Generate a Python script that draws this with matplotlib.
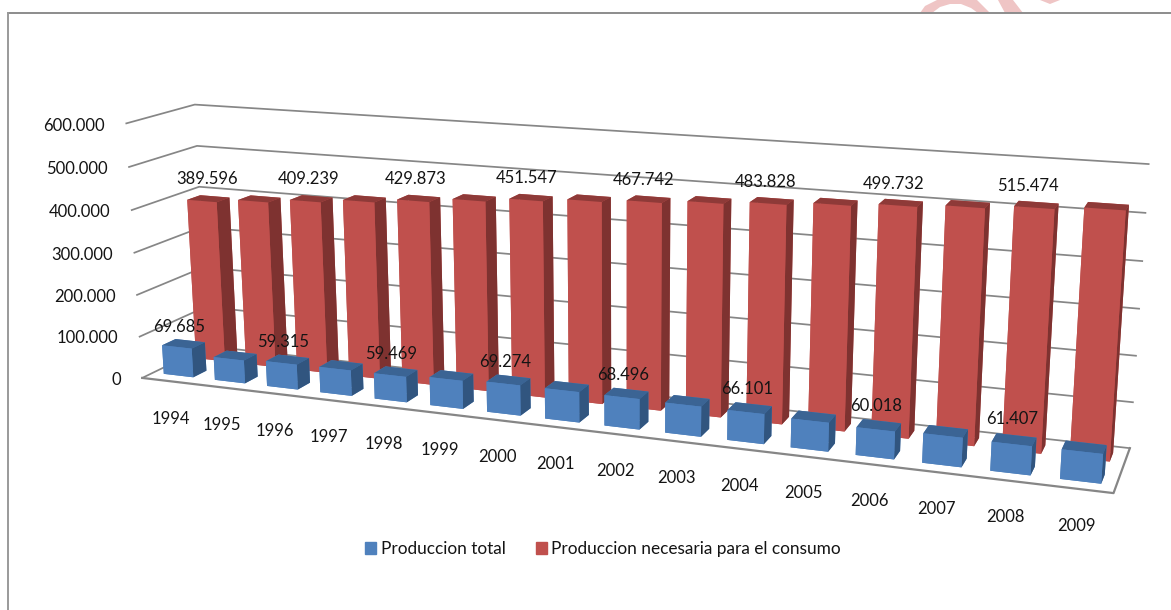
import matplotlib
matplotlib.use("Agg")
import matplotlib.pyplot as plt
from matplotlib.lines import Line2D
from matplotlib.patches import Patch, Polygon
from mpl_toolkits.mplot3d import proj3d

plt.rcParams['font.family'] = ['Lato', 'DejaVu Sans']

# datos del grafico (los años sin etiqueta son estimados a ojo)
anios = [1994, 1995, 1996, 1997, 1998, 1999, 2000, 2001,
         2002, 2003, 2004, 2005, 2006, 2007, 2008, 2009]
produccion_total = [69685, 55000, 59315, 60000, 59469, 65000, 69274, 69000,
                    68496, 67000, 66101, 63000, 60018, 63000, 61407, 62000]
produccion_consumo = [389596, 399000, 409239, 419000, 429873, 441000, 451547, 460000,
                      467742, 476000, 483828, 492000, 499732, 507000, 515474, 523000]
ticks_valor = [0, 100000, 200000, 300000, 400000, 500000, 600000]

COLOR_REJILLA = '#868686'
COLOR_TEXTO = '#141414'
AZUL = ['#4F81BD', '#3B6494', '#4F81BD', '#4F81BD', '#4F81BD', '#31557F']
ROJO = ['#C0504D', '#8E3A38', '#C0504D', '#C0504D', '#C0504D', '#7E3230']
ANCHO_PX, ALTO_PX = 1171, 610


def formato(v):
    return f"{v:,}".replace(',', '.')


def fig_xy(puntos):
    return [(x / ANCHO_PX, 1 - y / ALTO_PX) for x, y in puntos]


def etiqueta(x, y, z, texto, dx=0, dy=0, ha='center', size=12):
    # texto plano en la posicion proyectada del punto 3D
    u, v, _ = proj3d.proj_transform(x, y, z, ax.get_proj())
    ax.annotate(texto, (u, v), xytext=(dx, dy), textcoords='offset pixels', ha=ha, va='center',
                fontsize=size, color=COLOR_TEXTO, annotation_clip=False, zorder=5)


fig = plt.figure(figsize=(ANCHO_PX / 100, ALTO_PX / 100), dpi=100)

# camara ajustada a las esquinas de la caja del grafico original
ax = fig.add_axes([76.26 / ANCHO_PX, -200.2 / ALTO_PX, 1034.3 / ANCHO_PX, 1034.3 / ALTO_PX],
                  projection='3d', computed_zorder=False)
ax.set_proj_type('persp', focal_length=0.3521)
ax.view_init(elev=14.145, azim=-69.3351, roll=0.1247)
ax.set_box_aspect((1, 0.1287, 0.2713))
ax.set_axis_off()
ax.patch.set_visible(False)

n = len(anios)
z_max = ticks_valor[-1]

# rejilla: pared izquierda, pared del fondo y suelo
for z in ticks_valor:
    ax.plot([0, 0, n], [0, 2, 2], [z, z, z], color=COLOR_REJILLA, lw=1.25, zorder=1, clip_on=False)
ax.plot([0, n, n], [0, 0, 2], [0, 0, 0], color=COLOR_REJILLA, lw=1.6, zorder=1, clip_on=False)

# barras, primero la serie de atras
for i in range(n):
    b = ax.bar3d(i + 0.21, 1.3, 0, 0.58, 0.4, produccion_consumo[i], color=ROJO,
                 shade=False, linewidth=0, zorder=2)
    b.set_clip_on(False)
for i in range(n):
    b = ax.bar3d(i + 0.21, 0.32, 0, 0.58, 0.4, produccion_total[i], color=AZUL,
                 shade=False, linewidth=0, zorder=3)
    b.set_clip_on(False)

ax.set_xlim(0, n)
ax.set_ylim(0, 2)
ax.set_zlim(0, z_max)

# etiquetas de datos, una de cada dos barras
for i in range(0, n, 2):
    etiqueta(i + 0.5, 1.5, produccion_consumo[i] + 48000, formato(produccion_consumo[i]),
             dx=-0.7 * i, dy=-0.3 * i)
    etiqueta(i + 0.5, 0.5, produccion_total[i] + 52000, formato(produccion_total[i]),
             dx=-3, dy=-4)

# ejes
for z in ticks_valor:
    etiqueta(-0.4, 0, z, formato(z), dx=-1, dy=-4, ha='right')
for i, anio in enumerate(anios):
    etiqueta(i + 0.5, 0, -85000, str(anio), dx=1, dy=-3 + 0.45 * i)

# leyenda
fig.legend(handles=[Patch(color=AZUL[0], label='Produccion total'),
                    Patch(color=ROJO[0], label='Produccion necesaria para el consumo')],
           loc='center', bbox_to_anchor=(603 / ANCHO_PX, 1 - 549 / ALTO_PX), ncol=2, frameon=False,
           fontsize=12.4, handlelength=0.65, handleheight=0.65, handletextpad=0.25,
           columnspacing=1.75, labelcolor=COLOR_TEXTO)

# sello rosa cortado arriba y marco
sello = [
    [(920, 13), (925, 6), (937, 0), (977, 0), (990, 13), (978, 13), (971, 8), (961, 4), (950, 4), (940, 7), (932, 13)],
    [(998, 0), (1013, 0), (1023, 13), (1005, 13)],
    [(1040, 0), (1060, 0), (1050, 4)],
]
for trozo in sello:
    fig.add_artist(Polygon(fig_xy(trozo), closed=True, transform=fig.transFigure,
                           facecolor='#EFC5C5', edgecolor='none', zorder=5))
(x0, y0), (x1, y1) = fig_xy([(8, 13), (ANCHO_PX, ALTO_PX)])
fig.add_artist(Line2D([x0, x1], [y0, y0], transform=fig.transFigure, color='#8C8C8C', lw=1.4, zorder=6))
fig.add_artist(Line2D([x0, x0], [y0, y1], transform=fig.transFigure, color='#9A9A9A', lw=1.4, zorder=6))

fig.savefig('out.png', dpi=100)
